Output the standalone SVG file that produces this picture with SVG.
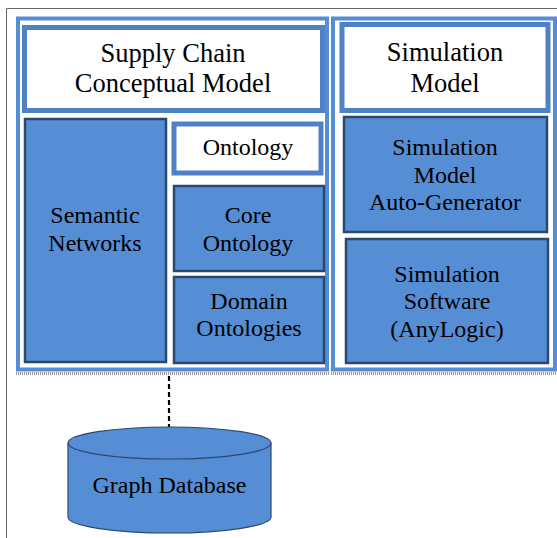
<svg xmlns="http://www.w3.org/2000/svg" width="557" height="538" viewBox="0 0 557 538">
<style>
text{fill:#000;text-anchor:middle;font-family:"Liberation Serif","Times New Roman",serif}
.t{font-size:26.5px}
.s{font-size:24px}
.cont{fill:#fff;stroke:#558ED5;stroke-width:4}
.head{fill:#fff;stroke:#4F81C7;stroke-width:5}
.blk{fill:#558ED5;stroke:#2A4870;stroke-width:2.5}
.dot{stroke:#999;stroke-width:3;stroke-dasharray:1,1}
</style>
<rect x="0" y="0" width="557" height="538" fill="#fff"/>
<g id="frame" fill="none" stroke="#666" stroke-width="1">
<path d="M6.5 538 V8.5 H557"/>
</g>
<g id="left-container">
<rect class="cont" x="18" y="18.5" width="309" height="351"/>
<line class="dot" x1="16" y1="373.5" x2="329" y2="373.5"/>
</g>
<g id="right-container">
<rect class="cont" x="333" y="18.5" width="222" height="351"/>
<line class="dot" x1="331" y1="373.5" x2="557" y2="373.5"/>
</g>
<g id="supply-chain">
<rect class="head" x="24.5" y="27.5" width="298" height="83"/>
<text class="t" x="173" y="62">Supply Chain</text>
<text class="t" x="173" y="92">Conceptual Model</text>
</g>
<g id="simulation-model">
<rect class="head" x="342" y="24.5" width="206" height="86" stroke-width="4.5"/>
<text class="t" x="445" y="61">Simulation</text>
<text class="t" x="445" y="92">Model</text>
</g>
<g id="ontology">
<rect class="head" x="174" y="124" width="147" height="49" stroke-width="4"/>
<text class="s" x="248" y="155">Ontology</text>
</g>
<g id="semantic-networks">
<rect class="blk" x="25" y="119" width="141" height="243"/>
<text class="s" x="95" y="223">Semantic</text>
<text class="s" x="95" y="251">Networks</text>
</g>
<g id="core-ontology">
<rect class="blk" x="174" y="186" width="150" height="85"/>
<text class="s" x="248" y="223">Core</text>
<text class="s" x="248" y="251">Ontology</text>
</g>
<g id="domain-ontologies">
<rect class="blk" x="174" y="277" width="150" height="86"/>
<text class="s" x="249" y="309">Domain</text>
<text class="s" x="249" y="336">Ontologies</text>
</g>
<g id="auto-generator">
<rect class="blk" x="344" y="117" width="203" height="115"/>
<text class="s" x="445" y="155">Simulation</text>
<text class="s" x="445" y="183">Model</text>
<text class="s" x="445" y="210">Auto-Generator</text>
</g>
<g id="simulation-software">
<rect class="blk" x="346" y="239" width="202" height="124"/>
<text class="s" x="447" y="282">Simulation</text>
<text class="s" x="447" y="309">Software</text>
<text class="s" x="447" y="337">(AnyLogic)</text>
</g>
<g id="connectors">
<line x1="169" y1="376" x2="169" y2="427" stroke="#000" stroke-width="2.2" stroke-dasharray="5,3"/>
</g>
<g id="graph-database">
<path d="M68 443 V517 A101.5 16 0 0 0 271 517 V443" fill="#558ED5" stroke="#2A4870" stroke-width="1.2"/>
<ellipse cx="169.5" cy="443" rx="101.5" ry="16" fill="#558ED5" stroke="#2A4870" stroke-width="1.2"/>
<text class="s" x="169.5" y="493">Graph Database</text>
</g>
</svg>
